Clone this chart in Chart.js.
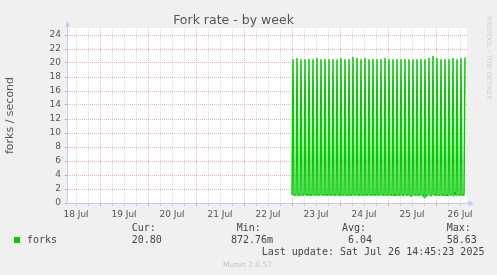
<!DOCTYPE html>
<html><head><meta charset="utf-8">
<script src="https://cdn.jsdelivr.net/npm/chart.js@4/dist/chart.umd.min.js"></script>
<style>
html,body{margin:0;padding:0;background:#f0f0f0;}
#wrap{position:relative;width:497px;height:275px;overflow:hidden;background:#f0f0f0;}
canvas{position:absolute;left:0;top:0;}
.t{position:absolute;font-family:'DejaVu Sans Mono',monospace;font-size:10px;line-height:12px;color:#444;white-space:pre;}
#sq{position:absolute;left:14px;top:237px;width:6px;height:6px;background:#00cc00;}
#munin{position:absolute;left:223px;top:259.6px;font-family:'DejaVu Sans',sans-serif;font-size:7.5px;line-height:9px;color:#c4c4c4;white-space:pre;}
#rrd{position:absolute;left:485px;top:16px;writing-mode:vertical-rl;font-family:'DejaVu Sans',sans-serif;font-size:6.5px;line-height:8px;color:#cfcfcf;white-space:pre;}
</style></head><body>
<div id="wrap">
<canvas id="c" width="497" height="275"></canvas>
<div id="rrd">RRDTOOL / TOBI OETIKER</div>
<div class="t" style="left:131.7px;top:221.5px">Cur:</div>
<div class="t" style="left:236.7px;top:221.5px">Min:</div>
<div class="t" style="left:342px;top:221.5px">Avg:</div>
<div class="t" style="left:446.7px;top:221.5px">Max:</div>
<div id="sq"></div>
<div class="t" style="left:27px;top:233.8px">forks</div>
<div class="t" style="left:131.7px;top:233.8px">20.80</div>
<div class="t" style="left:231px;top:233.8px">872.76m</div>
<div class="t" style="left:348px;top:233.8px">6.04</div>
<div class="t" style="left:446.7px;top:233.8px">58.63</div>
<div class="t" style="left:261.7px;top:245.8px">Last update: Sat Jul 26 14:45:23 2025</div>
<div id="munin">Munin 2.0.57</div>
</div>
<script>
// ---- data (hours counted from 18 Jul 00:00) ----
const dayLabels = ['18 Jul','19 Jul','20 Jul','21 Jul','22 Jul','23 Jul','24 Jul','25 Jul','26 Jul'];
const dayLabelHours = [12, 36, 60, 84, 108, 132, 156, 180, 204];
const majorGridHours = [24, 48, 72, 96, 120, 144, 168, 192];
const xGridHours = [12,18,24,30,36,42,48,54,60,66,72,78,84,90,96,102,108,114,120,126,132,138,144,150,156,162,168,174,180,186,192,198,204];
const yGridValues = [0,1,2,3,4,5,6,7,8,9,10,11,12,13,14,15,16,17,18,19,20,21,22,23,24,25];
const yLabelValues = [0,2,4,6,8,10,12,14,16,18,20,22,24];
const dataStartHour = 120;   // 23 Jul 00:00
const sampleHours = 0.5;     // 30-minute samples
const forkValues = [
1.15,
20.55, 1.12, 1.15, 1.18,
20.70, 1.14, 1.16, 1.13,
20.55, 1.15, 1.12, 1.17,
20.55, 1.16, 1.14, 1.12,
20.55, 1.13, 1.18, 1.15,
20.55, 1.15, 1.13, 1.16,
20.70, 1.12, 1.15, 1.18,
20.55, 1.16, 1.14, 1.13,
20.55, 1.14, 1.17, 1.15,
20.55, 1.15, 1.12, 1.16,
20.55, 1.13, 1.16, 1.14,
20.55, 1.17, 1.15, 1.12,
20.70, 1.14, 1.13, 1.16,
20.55, 1.15, 1.18, 1.14,
20.55, 1.12, 1.15, 1.17,
20.85, 1.16, 1.13, 1.15,
20.70, 1.14, 1.16, 1.12,
20.55, 1.15, 1.14, 1.17,
20.70, 1.13, 1.15, 1.16,
20.55, 1.17, 1.12, 1.14,
20.55, 1.15, 1.16, 1.13,
20.55, 1.12, 1.14, 1.18,
20.55, 1.16, 1.15, 1.13,
20.70, 1.14, 1.12, 1.16,
20.55, 1.15, 1.17, 1.14,
20.55, 1.13, 1.15, 1.12,
20.55, 1.16, 1.14, 1.15,
20.55, 1.14, 1.05, 1.16,
20.55, 1.15, 1.13, 1.12,
20.55, 1.12, 0.98, 1.15,
20.55, 1.16, 1.14, 1.13,
20.55, 1.14, 1.15, 1.17,
20.55, 1.13, 1.05, 0.87,
20.55, 0.95, 1.12, 1.15,
20.75, 1.15, 1.02, 1.14,
21.00, 1.16, 1.15, 1.13,
20.70, 1.14, 1.12, 1.16,
20.55, 1.15, 1.17, 1.14,
20.55, 1.13, 1.15, 1.12,
20.55, 1.16, 1.14, 1.15,
20.70, 1.14, 1.35, 1.16,
20.55, 1.15, 1.13, 1.14,
20.70, 1.12, 1.15, 1.16,
20.80
];

const MAJOR = '#ebb2b2';
const MINOR = '#dadada';
const AXIS = '#c8c8f8';
const LINE = '#00cc00';

const points = forkValues.map((v, i) => ({x: dataStartHour + i * sampleHours, y: v}));

const bgPlugin = {
  id: 'bg',
  beforeDraw(chart) {
    const {ctx, chartArea: a} = chart;
    ctx.save();
    ctx.fillStyle = '#ffffff';
    ctx.fillRect(a.left, a.top, a.right - a.left, a.bottom - a.top);
    ctx.restore();
  }
};
const arrowPlugin = {
  id: 'arrows',
  afterDraw(chart) {
    const {ctx, chartArea: a} = chart;
    const lx = Math.round(a.left) + 0.5, by = Math.round(a.bottom) + 0.5;
    ctx.save();
    ctx.strokeStyle = AXIS; ctx.fillStyle = AXIS; ctx.lineWidth = 1;
    ctx.beginPath(); ctx.moveTo(lx, a.top); ctx.lineTo(lx, a.top - 2); ctx.stroke();
    ctx.beginPath(); ctx.moveTo(a.right, by); ctx.lineTo(a.right + 2, by); ctx.stroke();
    ctx.beginPath(); ctx.moveTo(lx - 2.5, a.top - 1.5); ctx.lineTo(lx + 2.5, a.top - 1.5); ctx.lineTo(lx, a.top - 7); ctx.closePath(); ctx.fill();
    ctx.beginPath(); ctx.moveTo(a.right + 1.5, by - 3); ctx.lineTo(a.right + 1.5, by + 3); ctx.lineTo(a.right + 7, by); ctx.closePath(); ctx.fill();
    ctx.restore();
  }
};

new Chart(document.getElementById('c'), {
  type: 'line',
  data: { datasets: [{
    label: 'forks', data: points, borderColor: LINE, borderWidth: 1.5,
    pointRadius: 0, tension: 0, fill: false
  }]},
  plugins: [bgPlugin, arrowPlugin],
  options: {
    responsive: false, animation: false, events: [],
    layout: { padding: {left: 0, right: 30, top: 0, bottom: 0} },
    plugins: {
      legend: {display: false}, tooltip: {enabled: false},
      title: { display: true, text: 'Fork rate - by week', color: '#555',
        font: {family: 'DejaVu Sans', size: 12.5, weight: 'normal', lineHeight: 1.16}, padding: {top: 13.5, bottom: 0} }
    },
    scales: {
      x: {
        type: 'linear', min: 7.5, max: 207.5,
        afterBuildTicks: s => { s.ticks = xGridHours.map(v => ({value: v})); },
        afterFit: s => { s.height = 72; },
        ticks: { autoSkip: false, maxRotation: 0, minRotation: 0, padding: 3, color: '#555',
          font: {family: 'DejaVu Sans', size: 9},
          callback: v => { const i = dayLabelHours.indexOf(v); return i >= 0 ? dayLabels[i] : ''; } },
        grid: { lineWidth: 1, tickLength: 3,
          color: c => (c.tick && majorGridHours.includes(c.tick.value)) ? MAJOR : MINOR,
          tickColor: c => (c.tick && majorGridHours.includes(c.tick.value)) ? '#e89090' : '#cccccc' },
        border: { color: AXIS, width: 1, dash: [1, 1] }
      },
      y: {
        min: 0, max: 25,
        afterBuildTicks: s => { s.ticks = yGridValues.map(v => ({value: v})); },
        afterFit: s => { s.width = 67; },
        ticks: { padding: 4, color: '#555', font: {family: 'DejaVu Sans', size: 9},
          callback: v => yLabelValues.includes(v) ? String(v) : '' },
        grid: { lineWidth: 1, tickLength: 2,
          color: c => (c.tick && yLabelValues.includes(c.tick.value)) ? MAJOR : MINOR,
          tickColor: c => (c.tick && yLabelValues.includes(c.tick.value)) ? '#e89090' : 'rgba(0,0,0,0)' },
        border: { color: AXIS, width: 1, dash: [1, 1] },
        title: { display: true, text: 'forks / second', color: '#555',
          font: {family: 'DejaVu Sans', size: 11} }
      }
    }
  }
});
</script>
</body></html>
